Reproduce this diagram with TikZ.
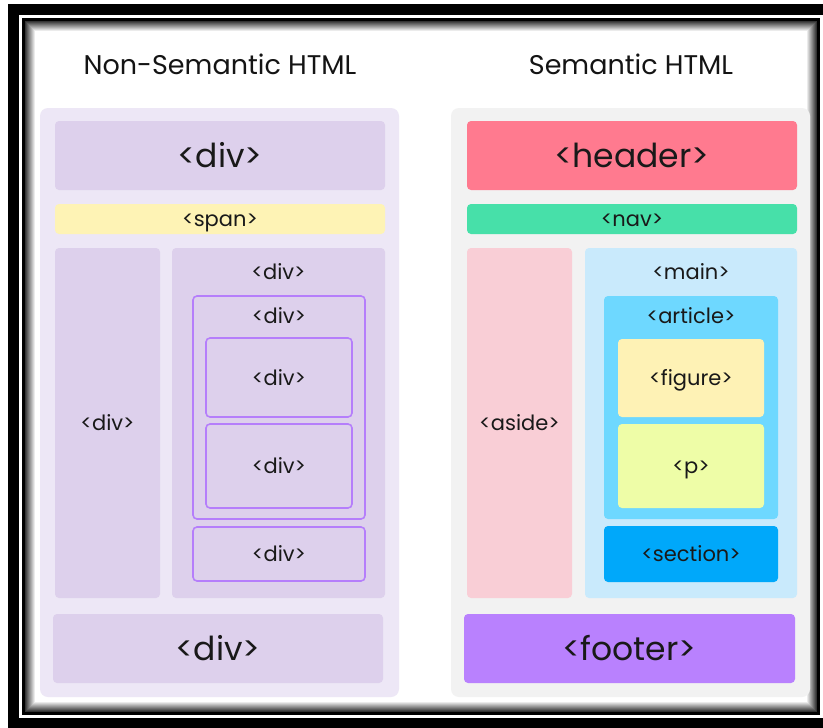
\documentclass[tikz,border=0pt]{standalone}
\usepackage{fontspec}
\setmainfont{Poppins}
\definecolor{lpanel}{HTML}{EDE7F6}
\definecolor{divc}{HTML}{DDD0EC}
\definecolor{spanc}{HTML}{FEF3B5}
\definecolor{bordc}{HTML}{B57EFB}
\definecolor{rpanel}{HTML}{F2F2F2}
\definecolor{headc}{HTML}{FF7A8F}
\definecolor{navc}{HTML}{47E0A9}
\definecolor{asidec}{HTML}{F9CED6}
\definecolor{mainc}{HTML}{C9EAFC}
\definecolor{artc}{HTML}{6ED8FF}
\definecolor{figc}{HTML}{FEF2B5}
\definecolor{pc}{HTML}{EEFDA7}
\definecolor{secc}{HTML}{00A8FA}
\definecolor{footc}{HTML}{B981FE}
\newcommand\mybox[7]{\node[#2, minimum width={#5-#3}, minimum height={#6-#4}] (#1) at ({(#3+#5)/2},{(#4+#6)/2}) {#7};}
\tikzset{
  base/.style={rectangle, inner sep=0pt, outer sep=0pt, rounded corners=4pt, text=black!90, text depth=0pt},
  panel/.style={base, rounded corners=8pt},
  big/.style={base, font=\fontsize{33}{38}\selectfont, text height=24pt},
  small/.style={base, font=\fontsize{21}{25}\selectfont, text height=15pt},
  lbl/.style={inner sep=0pt, outer sep=0pt, text=black!90, font=\fontsize{21}{25}\selectfont, text height=15pt, text depth=0pt},
  title/.style={inner sep=0pt, anchor=base, text=black!92, font=\fontsize{27}{32}\selectfont},
  bordered/.style={draw=bordc, line width=1.6pt}
}
\begin{document}
\begin{tikzpicture}[x=1pt,y=-1pt]
\useasboundingbox (0,0) rectangle (823,728);
\fill[white] (0,0) rectangle (823,728);
% frame
\draw[line width=11pt] (13.5,9.5) rectangle (850,723);
\draw[line width=3pt] (23.5,19.5) rectangle (818.5,713.5);
\foreach \i [evaluate=\i as \c using 80-8*\i] in {0,...,9}
  \draw[black!\c, line width=1pt] ({25.5+\i},{21.5+\i}) rectangle ({816.5-\i},{711.5-\i});
% titles
\node[title] (t1) at (220,74) {Non-Semantic HTML};
\node[title] (t2) at (631,74) {Semantic HTML};
% left panel
\mybox{lp}{panel, fill=lpanel}{40}{108}{399}{697}{}
\mybox{d1}{big, fill=divc}{55}{121}{385}{190}{<div>}
\mybox{sp}{small, fill=spanc}{55}{204}{385}{234}{<span>}
\mybox{dl}{small, fill=divc}{55}{248}{160}{598}{<div>}
\mybox{dr}{small, fill=divc}{172}{248}{385}{598}{}
\node[lbl] (drl) at (278.5,272) {<div>};
\mybox{db}{small, fill=divc, bordered}{193}{296}{365}{519}{}
\node[lbl] (dbl) at (279,316) {<div>};
\mybox{di1}{small, fill=divc, bordered}{206}{338}{352}{417}{<div>}
\mybox{di2}{small, fill=divc, bordered}{206}{424}{352}{508}{<div>}
\mybox{db2}{small, fill=divc, bordered}{193}{527}{365}{581}{<div>}
\mybox{d5}{big, fill=divc}{53}{614}{383}{683}{<div>}
% right panel
\mybox{rp}{panel, fill=rpanel}{451}{108}{810}{697}{}
\mybox{hd}{big, fill=headc}{467}{121}{797}{190}{<header>}
\mybox{nv}{small, fill=navc}{467}{204}{797}{234}{<nav>}
\mybox{as}{small, fill=asidec}{467}{248}{572}{598}{<aside>}
\mybox{mn}{small, fill=mainc}{585}{248}{797}{598}{}
\node[lbl] (mnl) at (691,272) {<main>};
\mybox{ar}{small, fill=artc}{604}{296}{778}{519}{}
\node[lbl] (arl) at (691,316) {<article>};
\mybox{fg}{small, fill=figc}{618}{339}{764}{417}{<figure>}
\mybox{pp}{small, fill=pc}{618}{424}{764}{508}{<p>}
\mybox{sc}{small, fill=secc}{604}{526}{778}{582}{<section>}
\mybox{ft}{big, fill=footc}{464}{614}{795}{683}{<footer>}
\end{tikzpicture}
\end{document}
